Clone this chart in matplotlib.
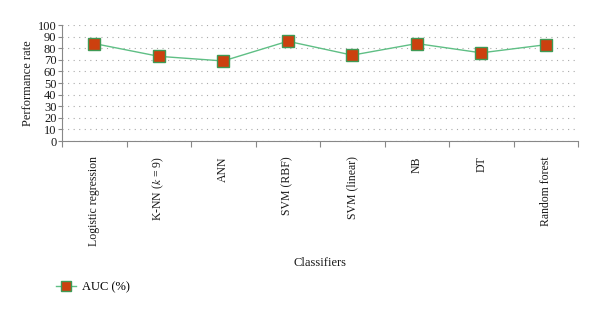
import matplotlib.pyplot as plt

# Дані
classifiers = ["Logistic regression", "K-NN ($k$ = 9)", "ANN", "SVM (RBF)",
               "SVM (linear)", "NB", "DT", "Random forest"]
auc = [84, 73, 69, 86, 74, 84, 76, 83]

plt.rcParams['font.family'] = ['Liberation Serif', 'DejaVu Serif']
plt.rcParams['mathtext.fontset'] = 'stix'

fig = plt.figure(figsize=(6, 3.14), dpi=100)
ax = fig.add_axes([62 / 600, 1 - 141 / 314, 516 / 600, 116 / 314])

x = [i + 0.5 for i in range(len(classifiers))]
line, = ax.plot(x, auc, color='#5fbf85', linewidth=1, marker='s', markersize=9,
                markerfacecolor='#cc400f', markeredgecolor='#3f9a55',
                markeredgewidth=1, label='AUC (%)')

ax.set_xlim(0, len(classifiers))
ax.set_ylim(0, 100)
ax.set_yticks(range(0, 101, 10))
ax.set_xticks(range(0, len(classifiers) + 1))
ax.set_xticklabels([])
ax.set_xticks(x, minor=True)
ax.set_xticklabels(classifiers, minor=True, rotation=90, va='top', ha='center',
                   fontsize=8.5, color='#1a1a1a')
ax.tick_params(axis='x', which='minor', length=0, pad=11)
ax.tick_params(axis='x', which='major', length=4, color='#888888', direction='out')
ax.tick_params(axis='y', length=3, color='#888888', labelsize=9, pad=1,
               labelcolor='#1a1a1a')

ax.grid(axis='y', linestyle=(0, (1, 4)), color='#aaaaaa', linewidth=0.8)
ax.set_axisbelow(True)
for s in ['top', 'right']:
    ax.spines[s].set_visible(False)
for s in ['left', 'bottom']:
    ax.spines[s].set_color('#888888')

ax.set_ylabel('Performance rate', fontsize=9, color='#1a1a1a', labelpad=3)
fig.text(320 / 600, 1 - 263 / 314, 'Classifiers', ha='center', va='center',
         fontsize=9, color='#1a1a1a')

fig.legend(handles=[line], loc='center left', bbox_to_anchor=(45 / 600, 1 - 287 / 314),
           frameon=False, fontsize=9, handlelength=1.6, handletextpad=0.5,
           markerscale=0.8)

fig.savefig('out.png', dpi=100)
